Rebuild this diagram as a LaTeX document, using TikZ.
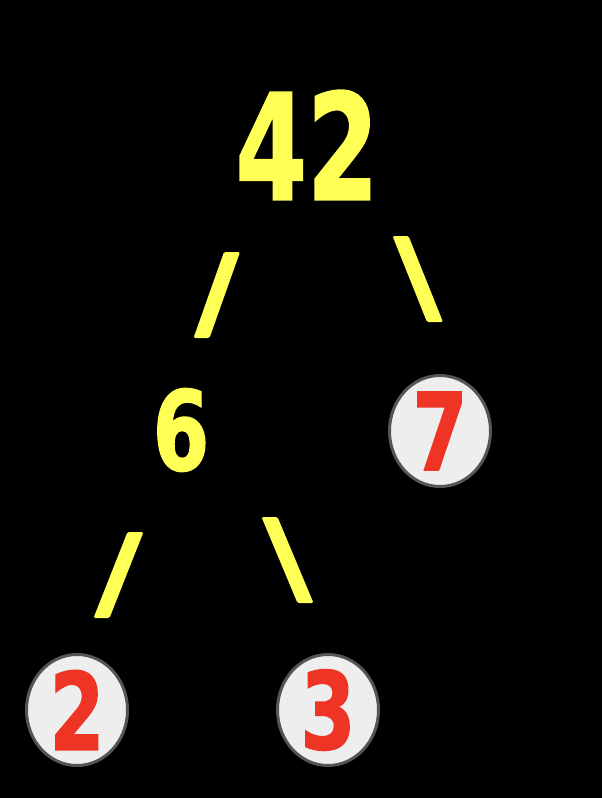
\documentclass[tikz,border=0pt]{standalone}
\usepackage{fontspec}
\newfontfamily\treefont[FakeBold=1.5]{DejaVu Sans}
\usetikzlibrary{shapes.geometric}
\definecolor{treeyellow}{RGB}{255,255,85}
\definecolor{treered}{RGB}{238,52,36}
\definecolor{leaffill}{RGB}{238,238,238}
\definecolor{leafline}{RGB}{85,85,85}
\tikzset{
	factor/.style={inner sep=0pt, text=treeyellow,
		font=\treefont\bfseries\fontsize{110}{110}\selectfont},
	bigfactor/.style={factor, font=\treefont\bfseries\fontsize{147}{147}\selectfont},
	primedigit/.style={inner sep=0pt, text=treered,
		font=\treefont\bfseries\fontsize{107}{107}\selectfont},
	prime/.style={ellipse, draw=leafline, line width=3pt, fill=leaffill,
		minimum width=101pt, minimum height=111pt, inner sep=0pt,
		label={[primedigit]center:\narrow{#1}}},
	branch/.style={fill=treeyellow, rounded corners=1.5pt}
}
\newcommand{\narrow}[2][0.74]{\scalebox{#1}[1]{#2}}

\begin{document}
\begin{tikzpicture}[x=1pt, y=-1pt]
	\fill[black] (0,0) rectangle (602,798);
	\useasboundingbox (0,0) rectangle (602,798);

	\node[bigfactor] (n42) at (307,145) {\narrow[0.70]{42}};
	\node[factor] (n6) at (181,430) {\narrow{6}};
	\node[prime=7] (n7) at (440,431) {};
	\node[prime=2] (n2) at (77,710) {};
	\node[prime=3] (n3) at (328,710) {};

	% branches, top centre / bottom centre
	\foreach \xt/\yt/\xb/\yb in {232/252/201.5/338, 400.5/236/435/322,
			135.5/532/101.5/618, 269.5/517/305.5/603} {
			\fill[branch] (\xt-8,\yt) -- (\xt+8,\yt) -- (\xb+8,\yb) -- (\xb-8,\yb) -- cycle;
		}
\end{tikzpicture}
\end{document}
